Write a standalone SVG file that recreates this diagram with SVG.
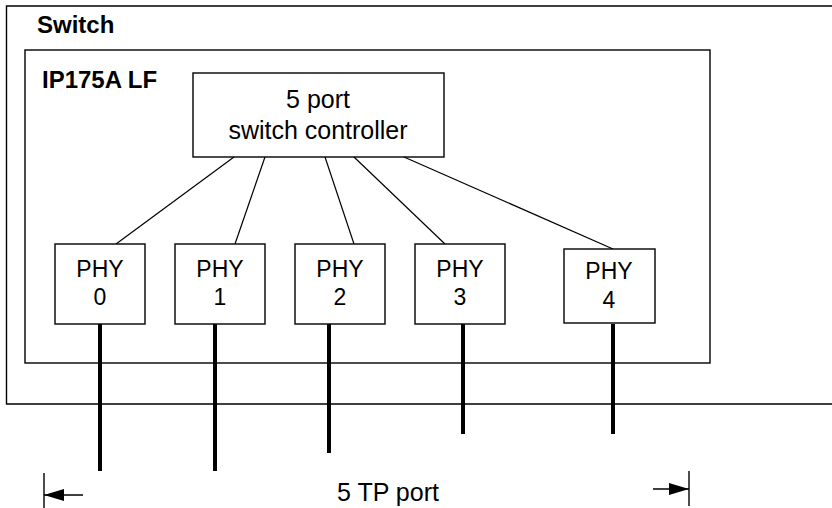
<svg xmlns="http://www.w3.org/2000/svg" width="832" height="508" viewBox="0 0 832 508">
<defs>
<style>
.box{fill:#fff;stroke:#000;stroke-width:1.4}
.frame{fill:none;stroke:#000;stroke-width:1.4}
.lbl{font-family:"Liberation Sans",Arial,sans-serif;font-size:23px;fill:#000;text-anchor:middle}
.big{font-size:25px}
.bold{font-family:"Liberation Sans",Arial,sans-serif;font-size:24px;font-weight:bold;fill:#000}
.wire{stroke:#000;stroke-width:1.2;fill:none}
.port{stroke:#000;stroke-width:4;fill:none}
.bar{stroke:#000;stroke-width:1.4;fill:none}
</style>
<marker id="ah" viewBox="0 0 20 12" refX="20" refY="6" markerWidth="20" markerHeight="12" markerUnits="userSpaceOnUse" orient="auto">
<path d="M0,0 L20,6 L0,12 Z" fill="#000"/>
</marker>
</defs>
<g id="switch">
<path class="frame" d="M840,6 H6.5 V404 H840"/>
<text class="bold" x="37" y="33">Switch</text>
</g>
<g id="ip175a">
<rect class="frame" x="25" y="50" width="685" height="313"/>
<text class="bold" x="42" y="88">IP175A LF</text>
</g>
<g id="controller">
<rect class="box" x="193" y="73" width="251" height="84"/>
<text class="lbl big" x="318" y="108">5 port</text>
<text class="lbl big" x="318" y="139">switch controller</text>
</g>
<g id="connectors">
<line class="wire" x1="234" y1="157" x2="116" y2="244"/>
<line class="wire" x1="265" y1="157" x2="235" y2="244"/>
<line class="wire" x1="325" y1="157" x2="354" y2="244"/>
<line class="wire" x1="354" y1="157" x2="445" y2="244"/>
<line class="wire" x1="404" y1="157" x2="613" y2="249"/>
<line class="port" x1="100" y1="324" x2="100" y2="471"/>
<line class="port" x1="215" y1="324" x2="215" y2="471"/>
<line class="port" x1="329" y1="324" x2="329" y2="453"/>
<line class="port" x1="463" y1="324" x2="463" y2="434"/>
<line class="port" x1="613" y1="324" x2="613" y2="434"/>
</g>
<g id="phy0">
<rect class="box" x="55" y="244" width="90" height="80"/>
<text class="lbl" x="100" y="277">PHY</text>
<text class="lbl" x="100" y="305">0</text>
</g>
<g id="phy1">
<rect class="box" x="175" y="244" width="90" height="80"/>
<text class="lbl" x="220" y="277">PHY</text>
<text class="lbl" x="220" y="305">1</text>
</g>
<g id="phy2">
<rect class="box" x="295" y="244" width="90" height="80"/>
<text class="lbl" x="340" y="277">PHY</text>
<text class="lbl" x="340" y="305">2</text>
</g>
<g id="phy3">
<rect class="box" x="415" y="244" width="90" height="80"/>
<text class="lbl" x="460" y="277">PHY</text>
<text class="lbl" x="460" y="305">3</text>
</g>
<g id="phy4">
<rect class="box" x="564" y="249" width="91" height="74"/>
<text class="lbl" x="609" y="279">PHY</text>
<text class="lbl" x="609" y="308">4</text>
</g>
<g id="dimension">
<line class="bar" x1="44" y1="473" x2="44" y2="508"/>
<line class="bar" x1="83" y1="495" x2="44" y2="495" marker-end="url(#ah)"/>
<line class="bar" x1="689" y1="471" x2="689" y2="506"/>
<line class="bar" x1="653" y1="489" x2="689" y2="489" marker-end="url(#ah)"/>
<text class="lbl big" x="388" y="501">5 TP port</text>
</g>
</svg>
